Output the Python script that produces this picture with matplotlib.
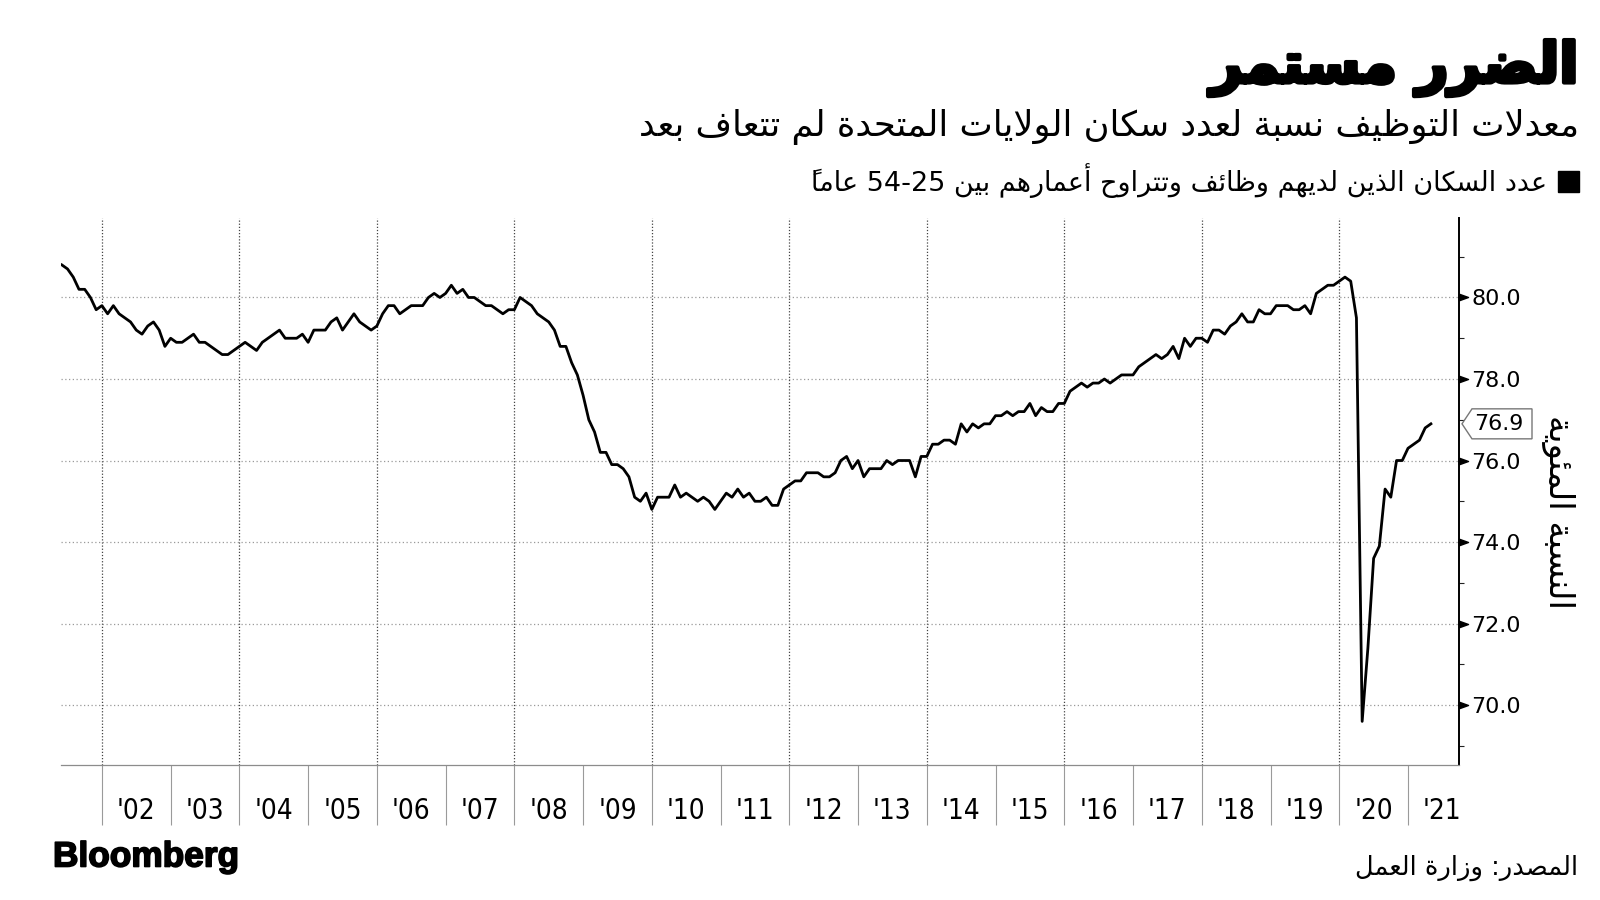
import matplotlib
matplotlib.use("Agg")
import matplotlib.pyplot as plt
import matplotlib.patheffects as pe
import numpy as np
from matplotlib.patches import Polygon, Rectangle
from matplotlib.ticker import FixedLocator, FuncFormatter
from matplotlib.transforms import blended_transform_factory, IdentityTransform
from matplotlib.path import Path

# prime-age (25-54) employment-population ratio, monthly, May 2001 - Apr 2021
start_year, start_month = 2001, 5
epop = [
    80.8, 80.7, 80.5, 80.2, 80.2, 80.0, 79.7, 79.8,
    79.6, 79.8, 79.6, 79.5, 79.4, 79.2, 79.1, 79.3, 79.4, 79.2, 78.8, 79.0,
    78.9, 78.9, 79.0, 79.1, 78.9, 78.9, 78.8, 78.7, 78.6, 78.6, 78.7, 78.8,
    78.9, 78.8, 78.7, 78.9, 79.0, 79.1, 79.2, 79.0, 79.0, 79.0, 79.1, 78.9,
    79.2, 79.2, 79.2, 79.4, 79.5, 79.2, 79.4, 79.6, 79.4, 79.3, 79.2, 79.3,
    79.6, 79.8, 79.8, 79.6, 79.7, 79.8, 79.8, 79.8, 80.0, 80.1, 80.0, 80.1,
    80.3, 80.1, 80.2, 80.0, 80.0, 79.9, 79.8, 79.8, 79.7, 79.6, 79.7, 79.7,
    80.0, 79.9, 79.8, 79.6, 79.5, 79.4, 79.2, 78.8, 78.8, 78.4, 78.1, 77.6,
    77.0, 76.7, 76.2, 76.2, 75.9, 75.9, 75.8, 75.6, 75.1, 75.0, 75.2, 74.8,
    75.1, 75.1, 75.1, 75.4, 75.1, 75.2, 75.1, 75.0, 75.1, 75.0, 74.8, 75.0,
    75.2, 75.1, 75.3, 75.1, 75.2, 75.0, 75.0, 75.1, 74.9, 74.9, 75.3, 75.4,
    75.5, 75.5, 75.7, 75.7, 75.7, 75.6, 75.6, 75.7, 76.0, 76.1, 75.8, 76.0,
    75.6, 75.8, 75.8, 75.8, 76.0, 75.9, 76.0, 76.0, 76.0, 75.6, 76.1, 76.1,
    76.4, 76.4, 76.5, 76.5, 76.4, 76.9, 76.7, 76.9, 76.8, 76.9, 76.9, 77.1,
    77.1, 77.2, 77.1, 77.2, 77.2, 77.4, 77.1, 77.3, 77.2, 77.2, 77.4, 77.4,
    77.7, 77.8, 77.9, 77.8, 77.9, 77.9, 78.0, 77.9, 78.0, 78.1, 78.1, 78.1,
    78.3, 78.4, 78.5, 78.6, 78.5, 78.6, 78.8, 78.5, 79.0, 78.8, 79.0, 79.0,
    78.9, 79.2, 79.2, 79.1, 79.3, 79.4, 79.6, 79.4, 79.4, 79.7, 79.6, 79.6,
    79.8, 79.8, 79.8, 79.7, 79.7, 79.8, 79.6, 80.1, 80.2, 80.3, 80.3, 80.4,
    80.5, 80.4, 79.5, 69.6, 71.4, 73.6, 73.9, 75.3, 75.1, 76.0, 76.0, 76.3,
    76.4, 76.5, 76.8, 76.9,
]
years = list(range(2002, 2022))
year_labels = ["'%02d" % (y % 100) for y in years]
grid_years = years[::2]
y_ticks = [70, 72, 74, 76, 78, 80]
y_minor = [69, 71, 73, 75, 77, 79, 81]

title = "الضرر مستمر"
subtitle = "معدلات التوظيف نسبة لعدد سكان الولايات المتحدة لم تتعاف بعد"
legend_label = "عدد السكان الذين لديهم وظائف وتتراوح أعمارهم بين 25-54 عاماً"
y_label = "النسبة المئوية"
source = "المصدر: وزارة العمل"

# --- minimal Arabic shaping (matplotlib has no RTL / joining support) ---
_AR = {
    0x0621: (0xFE80, 1), 0x0622: (0xFE81, 2), 0x0623: (0xFE83, 2), 0x0624: (0xFE85, 2),
    0x0625: (0xFE87, 2), 0x0626: (0xFE89, 4), 0x0627: (0xFE8D, 2), 0x0628: (0xFE8F, 4),
    0x0629: (0xFE93, 2), 0x062A: (0xFE95, 4), 0x062B: (0xFE99, 4), 0x062C: (0xFE9D, 4),
    0x062D: (0xFEA1, 4), 0x062E: (0xFEA5, 4), 0x062F: (0xFEA9, 2), 0x0630: (0xFEAB, 2),
    0x0631: (0xFEAD, 2), 0x0632: (0xFEAF, 2), 0x0633: (0xFEB1, 4), 0x0634: (0xFEB5, 4),
    0x0635: (0xFEB9, 4), 0x0636: (0xFEBD, 4), 0x0637: (0xFEC1, 4), 0x0638: (0xFEC5, 4),
    0x0639: (0xFEC9, 4), 0x063A: (0xFECD, 4), 0x0641: (0xFED1, 4), 0x0642: (0xFED5, 4),
    0x0643: (0xFED9, 4), 0x0644: (0xFEDD, 4), 0x0645: (0xFEE1, 4), 0x0646: (0xFEE5, 4),
    0x0647: (0xFEE9, 4), 0x0648: (0xFEED, 2), 0x0649: (0xFEEF, 2), 0x064A: (0xFEF1, 4),
}
_LAM_ALEF = {0x0622: 0xFEF5, 0x0623: 0xFEF7, 0x0625: 0xFEF9, 0x0627: 0xFEFB}


def _mark(c):
    return 0x064B <= ord(c) <= 0x065F or ord(c) == 0x0670


def ar(text):
    chars = list(text)
    n = len(chars)

    def neighbour(k, step):
        k += step
        while 0 <= k < n and _mark(chars[k]):
            k += step
        return k if 0 <= k < n else None

    clusters = []
    k = 0
    while k < n:
        c = chars[k]
        if c.isdigit():
            j = k
            while j < n and chars[j].isdigit():
                j += 1
            clusters.append("".join(chars[k:j]))
            k = j
            continue
        if ord(c) in _AR:
            p = neighbour(k, -1)
            joins_prev = p is not None and ord(chars[p]) in _AR and _AR[ord(chars[p])][1] == 4
            nx = neighbour(k, 1)
            if ord(c) == 0x0644 and nx is not None and ord(chars[nx]) in _LAM_ALEF:
                glyph = chr(_LAM_ALEF[ord(chars[nx])] + (1 if joins_prev else 0))
                k = nx
            else:
                base, nf = _AR[ord(c)]
                joins_next = (nf == 4 and nx is not None and ord(chars[nx]) in _AR
                              and _AR[ord(chars[nx])][1] > 1)
                if nf == 1:
                    form = 0
                elif nf == 2:
                    form = 1 if joins_prev else 0
                else:
                    form = {(False, False): 0, (True, False): 1,
                            (False, True): 2, (True, True): 3}[(joins_prev, joins_next)]
                glyph = chr(base + form)
            k += 1
            marks = ""
            while k < n and _mark(chars[k]):
                marks += chars[k]
                k += 1
            # zero-width marks go first so they sit over their base glyph
            clusters.append(marks + glyph)
            continue
        clusters.append(c)
        k += 1
    return "".join(reversed(clusters))


# --- figure ---
W, H = 1600, 900
fig = plt.figure(figsize=(16, 9), dpi=100)
fig.patch.set_facecolor("white")
ax = fig.add_axes([61 / W, (H - 765) / H, (1459 - 61) / W, (765 - 218) / H])

t = np.array([start_year + (start_month + i) / 12 for i in range(len(epop))])
ax.plot(t, epop, color="black", lw=2.0, zorder=5)

ax.set_xlim(2001.405, 2021.742)
ax.set_ylim(68.53, 81.95)

for s in ["top", "left"]:
    ax.spines[s].set_visible(False)
ax.spines["right"].set_color("black")
ax.spines["right"].set_linewidth(1.4)
ax.spines["bottom"].set_color("#8c8c8c")
ax.spines["bottom"].set_linewidth(0.9)

# y axis on the right
ax.yaxis.tick_right()
ax.set_yticks(y_ticks)
ax.yaxis.set_major_formatter(FuncFormatter(lambda v, _: f"{v:.1f}"))
ax.yaxis.set_minor_locator(FixedLocator(y_minor))
ax.tick_params(axis="y", which="major", length=0, pad=9, labelsize=16, labelcolor="black")
ax.tick_params(axis="y", which="minor", length=3.8, width=0.8, color="#222222")
for lab in ax.get_yticklabels():
    lab.set_fontfamily("DejaVu Sans")

tri = Path([(0, -0.36), (1, 0), (0, 0.36), (0, -0.36)],
           [Path.MOVETO, Path.LINETO, Path.LINETO, Path.CLOSEPOLY])
ax.plot([1] * len(y_ticks), y_ticks, ls="none", marker=tri, ms=13, color="black",
        transform=blended_transform_factory(ax.transAxes, ax.transData), clip_on=False)

# grid
ax.grid(axis="y", which="major", ls=(0, (1, 2)), color="#9a9a9a", lw=0.9)
for gy in grid_years:
    ax.axvline(gy, ls=(0, (1, 1.5)), color="#444444", lw=0.9, zorder=1)

# x axis: year boundary ticks, labels centred on each year
ax.set_xticks(years)
ax.set_xticklabels([])
ax.set_xticks([y + 0.5 for y in years], minor=True)
ax.set_xticklabels(year_labels, minor=True)
ax.tick_params(axis="x", which="major", length=43, width=0.8, color="#9a9a9a", direction="out")
ax.tick_params(axis="x", which="minor", length=0, pad=23, labelsize=20)
for lab in ax.get_xticklabels(minor=True):
    lab.set_fontfamily("DejaVu Sans")
    lab.set_fontstretch("condensed")

# last value tag
fig.canvas.draw()
xa = ax.transAxes.transform((1, 0))[0]
yc = ax.transData.transform((t[-1], epop[-1]))[1]
tag = Polygon([(xa + 3, yc), (xa + 13, yc + 15), (xa + 73, yc + 15),
               (xa + 73, yc - 15), (xa + 13, yc - 15)], closed=True,
              transform=IdentityTransform(), facecolor="white", edgecolor="#777777",
              lw=1, zorder=10)
fig.add_artist(tag)
fig.text((xa + 15) / W, yc / H, f"{epop[-1]:.1f}", ha="left", va="center",
         fontsize=16, family="DejaVu Sans", zorder=11)

renderer = fig.canvas.get_renderer()


def fit(txt, size_px, vertical=False):
    ext = txt.get_window_extent(renderer)
    cur = ext.height if vertical else ext.width
    txt.set_fontsize(txt.get_fontsize() * size_px / cur)


ar_font = "DejaVu Sans"
t1 = fig.text(1579 / W, 1 - 68 / H, ar(title), ha="right", va="center",
              fontsize=40, fontweight="bold", family=ar_font)
fit(t1, 368)
t1.set_path_effects([pe.withStroke(linewidth=3, foreground="black")])

t2 = fig.text(1579 / W, 1 - 127 / H, ar(subtitle), ha="right", va="center",
              fontsize=26, family=ar_font)
fit(t2, 939)
t3 = fig.text(1547 / W, 1 - 181 / H, ar(legend_label), ha="right", va="center",
              fontsize=18, family=ar_font)
fit(t3, 735)
fig.add_artist(Rectangle((1558 / W, 1 - 192 / H), 21 / W, 21 / H,
                         transform=fig.transFigure, color="black"))

t4 = fig.text(1558 / W, 1 - 512 / H, ar(y_label), rotation=-90, ha="center",
              va="center", fontsize=20, family=ar_font)
fit(t4, 195, vertical=True)

t5 = fig.text(1578 / W, 1 - 868 / H, ar(source), ha="right", va="center",
              fontsize=18, family=ar_font)
fit(t5, 224)

t6 = fig.text(53 / W, 1 - 857 / H, "Bloomberg", ha="left", va="center",
              fontsize=26, fontweight="bold", family="Liberation Sans")
fit(t6, 186)
t6.set_path_effects([pe.withStroke(linewidth=1.2, foreground="black")])

fig.savefig("out.png", dpi=100, facecolor="white")
